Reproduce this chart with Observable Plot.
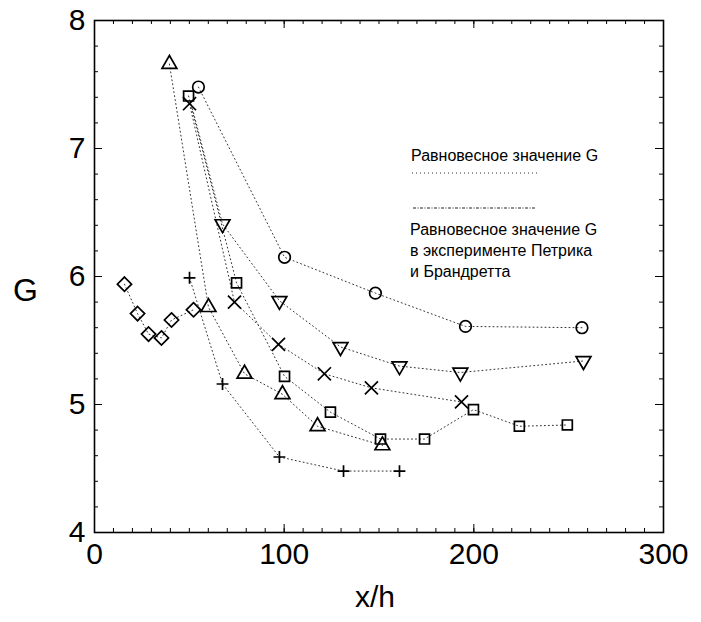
<!DOCTYPE html>
<html><head><meta charset="utf-8">
<script src="https://cdn.jsdelivr.net/npm/d3@7"></script>
<script src="https://cdn.jsdelivr.net/npm/@observablehq/plot@0.6"></script>
<style>body{margin:0;background:#fff;} svg{font-family:"Liberation Sans",Arial,sans-serif;}</style>
</head><body><div id="chart"></div>
<script>
// ---- data (x/h, G) ----
const circleX = [54.8, 100.2, 148.1, 195.6, 257.0];
const circleG = [7.48, 6.15, 5.87, 5.61, 5.60];

const tdownX = [50.6, 67.5, 97.5, 129.7, 160.8, 192.9, 257.8]; // first point: line start only
const tdownG = [7.37, 6.41, 5.81, 5.45, 5.30, 5.25, 5.34];

const timesX = [50.1, 73.8, 97.0, 121.2, 146.0, 193.5];
const timesG = [7.35, 5.80, 5.47, 5.24, 5.13, 5.02];

const squareX = [49.6, 74.9, 100.2, 124.4, 150.8, 174.0, 199.8, 224.0, 249.3];
const squareG = [7.41, 5.95, 5.22, 4.94, 4.73, 4.73, 4.96, 4.83, 4.84];

const tupX = [39.5, 60.1, 79.1, 99.1, 117.6, 151.8];
const tupG = [7.66, 5.76, 5.24, 5.08, 4.83, 4.68];

const plusX = [50.1, 67.5, 97.5, 131.3, 160.8];
const plusG = [5.99, 5.16, 4.59, 4.48, 4.48];

const diamondX = [15.8, 22.7, 28.5, 35.3, 40.6, 52.2];
const diamondG = [5.94, 5.71, 5.55, 5.52, 5.66, 5.74];

const xTicks = [0, 100, 200, 300];
const yTicks = [4, 5, 6, 7, 8];
const xMinor = d3.range(0, 301, 10);
const yMinor = d3.range(4, 8.001, 0.2);

const xLabel = "x/h";
const yLabel = "G";
const legend1 = ["Равновесное значение G"];
const legend2 = ["Равновесное значение G", "в эксперименте Петрика", "и Брандретта"];

// ---- build ----
const W = 701, H = 622;
const mL = 94, mR = 38, mT = 20, mB = 90;
const pw = W - mL - mR, ph = H - mT - mB;

const series = [
  {name: "circle", X: circleX, G: circleG, symbol: "circle", r: 5.8, rotate: 0, from: 0},
  {name: "tdown", X: tdownX, G: tdownG, symbol: "triangle", r: 5.5, rotate: 180, from: 1},
  {name: "times", X: timesX, G: timesG, symbol: "times", r: 6, rotate: 0, from: 0},
  {name: "square", X: squareX, G: squareG, symbol: "square", r: 5.6, rotate: 0, from: 0},
  {name: "tup", X: tupX, G: tupG, symbol: "triangle", r: 5.5, rotate: 0, from: 0},
  {name: "plus", X: plusX, G: plusG, symbol: "plus", r: 3.9, rotate: 0, from: 0},
  {name: "diamond", X: diamondX, G: diamondG, symbol: "diamond2", r: 6.4, rotate: 0, from: 0}
];

const marks = [];
for (const s of series) {
  const pts = s.X.map((x, i) => ({x, g: s.G[i], i}));
  marks.push(Plot.line(pts, {x: "x", y: "g", stroke: "#333", strokeWidth: 1, strokeDasharray: "1,3"}));
}
for (const s of series) {
  const pts = s.X.map((x, i) => ({x, g: s.G[i], i})).filter(d => d.i >= s.from);
  marks.push(Plot.dot(pts, {x: "x", y: "g", symbol: () => s.symbol, r: s.r, rotate: s.rotate,
    stroke: "black", strokeWidth: 1.7, fill: "none"}));
}

// ticks (inward)
marks.push(
  Plot.tickX(xMinor, {x: d => d, insetTop: ph - 4, stroke: "black"}),
  Plot.tickX(xTicks, {x: d => d, insetTop: ph - 8, stroke: "black"}),
  Plot.tickX(xMinor, {x: d => d, insetBottom: ph - 4, stroke: "black"}),
  Plot.tickX(xTicks, {x: d => d, insetBottom: ph - 8, stroke: "black"}),
  Plot.tickY(yMinor, {y: d => d, insetRight: pw - 4, stroke: "black"}),
  Plot.tickY(yTicks, {y: d => d, insetRight: pw - 8, stroke: "black"}),
  Plot.tickY(yMinor, {y: d => d, insetLeft: pw - 4, stroke: "black"}),
  Plot.tickY(yTicks, {y: d => d, insetLeft: pw - 8, stroke: "black"}),
  Plot.frame({stroke: "black", strokeWidth: 1.6}),
  Plot.axisX({ticks: xTicks, tickSize: 0, tickPadding: 10, fontSize: 30, label: null, tickFormat: d => String(d)}),
  Plot.axisY({ticks: yTicks, tickSize: 0, tickPadding: 9, fontSize: 30, label: null, tickFormat: d => String(d)}),
  Plot.text([xLabel], {text: d => d, frameAnchor: "bottom", textAnchor: "middle", dx: -4, dy: 74, fontSize: 30}),
  Plot.text([yLabel], {text: d => d, frameAnchor: "left", textAnchor: "middle", dx: -69, dy: 14, fontSize: 32})
);

const chart = Plot.plot({
  width: W, height: H,
  marginLeft: mL, marginRight: mR, marginTop: mT, marginBottom: mB,
  x: {domain: [0, 300]},
  y: {domain: [4, 8]},
  style: {fontFamily: '"Liberation Sans", Arial, sans-serif', color: "black", background: "white"},
  marks
});

// legend overlay
const svg = d3.select(chart);
const lg = svg.append("g").attr("font-size", 16).attr("fill", "black").attr("text-anchor", "start");
lg.append("text").attr("x", 411).attr("y", 161).text(legend1[0]);
lg.append("line").attr("x1", 412).attr("x2", 537).attr("y1", 173).attr("y2", 173)
  .attr("stroke", "#333").attr("stroke-dasharray", "1,3");
lg.append("line").attr("x1", 413).attr("x2", 535).attr("y1", 208).attr("y2", 208)
  .attr("stroke", "#222").attr("stroke-dasharray", "3,1.5,1,1.5");
legend2.forEach((t, i) => lg.append("text").attr("x", 410).attr("y", 235 + i * 21).text(t));

document.getElementById("chart").appendChild(chart);
</script>
</body></html>
